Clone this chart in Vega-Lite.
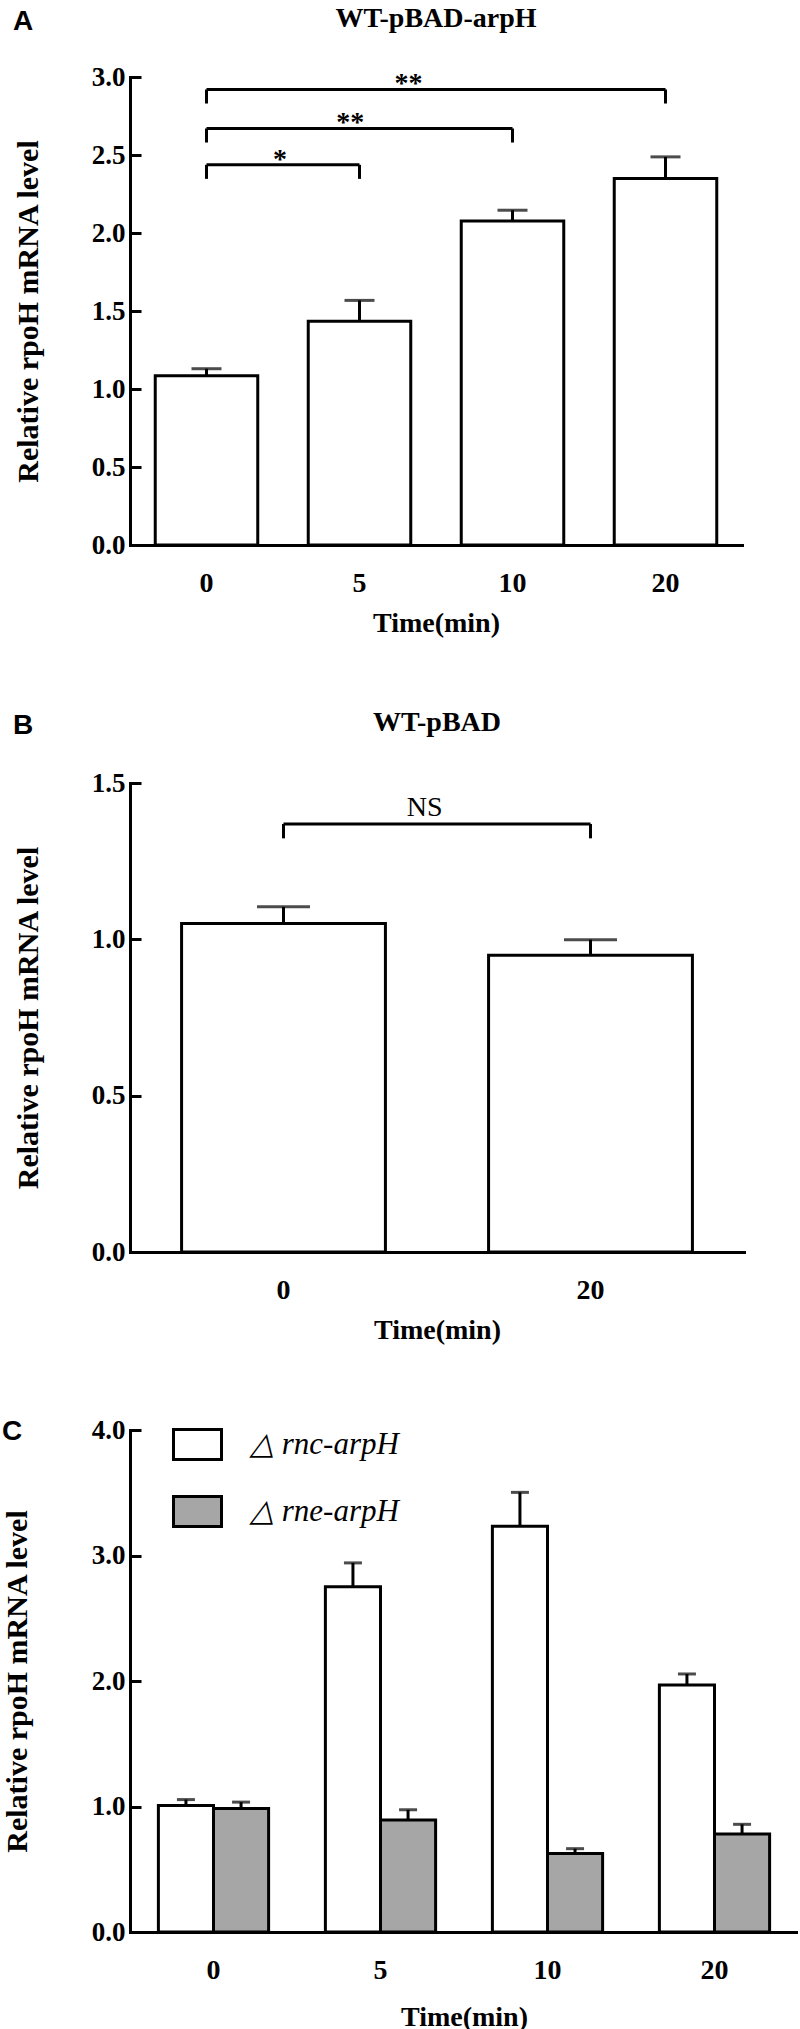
{
  "$schema": "https://vega.github.io/schema/vega-lite/v6.json",
  "padding": {"left": 2, "top": 5, "right": 0, "bottom": 0},
  "background": "white",
  "datasets": {
    "a_bars": [
      {"time": "0", "value": 1.085, "upper": 1.13},
      {"time": "5", "value": 1.434, "upper": 1.568},
      {"time": "10", "value": 2.077, "upper": 2.146},
      {"time": "20", "value": 2.35, "upper": 2.488}
    ],
    "a_sig": [
      {"from": "0", "to": "5", "mid": 0.48, "y": 2.437, "ylow": 2.347, "label": "*"},
      {"from": "0", "to": "10", "mid": 0.94, "y": 2.67, "ylow": 2.58, "label": "**"},
      {"from": "0", "to": "20", "mid": 1.32, "y": 2.92, "ylow": 2.83, "label": "**"}
    ],
    "b_bars": [
      {"time": "0", "value": 1.051, "upper": 1.104},
      {"time": "20", "value": 0.949, "upper": 0.999}
    ],
    "b_sig": [
      {"from": "0", "to": "20", "mid": 0.46, "y": 1.369, "ylow": 1.323, "label": "NS"}
    ],
    "c_bars": [
      {"time": "0", "strain": "△ rnc-arpH", "value": 1.008, "upper": 1.055},
      {"time": "0", "strain": "△ rne-arpH", "value": 0.984, "upper": 1.035},
      {"time": "5", "strain": "△ rnc-arpH", "value": 2.751, "upper": 2.941},
      {"time": "5", "strain": "△ rne-arpH", "value": 0.892, "upper": 0.974},
      {"time": "10", "strain": "△ rnc-arpH", "value": 3.234, "upper": 3.503},
      {"time": "10", "strain": "△ rne-arpH", "value": 0.626, "upper": 0.664},
      {"time": "20", "strain": "△ rnc-arpH", "value": 1.968, "upper": 2.056},
      {"time": "20", "strain": "△ rne-arpH", "value": 0.78, "upper": 0.858}
    ]
  },
  "vconcat": [
    {
      "title": {"text": "A", "anchor": "start", "frame": "bounds", "font": "Liberation Sans", "fontSize": 28, "fontWeight": "bold", "offset": -30.5},
      "vconcat": [
        {
          "width": 612,
          "height": 468,
          "title": {"text": "WT-pBAD-arpH", "offset": 30},
          "layer": [
            {
              "layer": [
                {
                  "data": {"name": "a_bars"},
                  "mark": {"type": "bar", "fill": "white", "stroke": "black", "strokeWidth": 3},
                  "encoding": {
                    "x": {"field": "time", "type": "nominal", "scale": {"type": "band", "domain": ["0", "5", "10", "20"], "paddingInner": 0.33, "paddingOuter": 0.165}, "axis": {"title": "Time(min)", "titlePadding": 12}},
                    "y": {"field": "value", "type": "quantitative", "scale": {"domain": [0, 3], "nice": false}, "axis": {"values": [0, 0.5, 1, 1.5, 2, 2.5, 3], "format": ".1f", "title": "Relative rpoH mRNA level"}}
                  }
                },
                {
                  "data": {"name": "a_bars"},
                  "mark": {"type": "rule", "color": "black", "strokeWidth": 3},
                  "encoding": {
                    "x": {"field": "time", "type": "nominal"},
                    "y": {"field": "value", "type": "quantitative"},
                    "y2": {"field": "upper"}
                  }
                },
                {
                  "data": {"name": "a_bars"},
                  "mark": {"type": "tick", "color": "black", "size": 30, "thickness": 3},
                  "encoding": {
                    "x": {"field": "time", "type": "nominal"},
                    "y": {"field": "upper", "type": "quantitative"}
                  }
                },
                {
                  "data": {"name": "a_sig"},
                  "mark": {"type": "rule", "color": "black", "strokeWidth": 3},
                  "encoding": {
                    "x": {"field": "from", "type": "nominal"},
                    "x2": {"field": "to"},
                    "y": {"field": "y", "type": "quantitative"}
                  }
                },
                {
                  "data": {"name": "a_sig"},
                  "mark": {"type": "rule", "color": "black", "strokeWidth": 3},
                  "encoding": {
                    "x": {"field": "from", "type": "nominal"},
                    "y": {"field": "ylow", "type": "quantitative"},
                    "y2": {"field": "y"}
                  }
                },
                {
                  "data": {"name": "a_sig"},
                  "mark": {"type": "rule", "color": "black", "strokeWidth": 3},
                  "encoding": {
                    "x": {"field": "to", "type": "nominal"},
                    "y": {"field": "ylow", "type": "quantitative"},
                    "y2": {"field": "y"}
                  }
                }
              ]
            },
            {
              "data": {"name": "a_sig"},
              "mark": {"type": "text", "font": "Liberation Serif", "fontSize": 28, "fontWeight": "bold", "baseline": "alphabetic", "dy": 3, "color": "black"},
              "encoding": {
                "x": {"field": "mid", "type": "quantitative", "scale": {"domain": [-0.5, 3.5], "nice": false, "zero": false}, "axis": null},
                "y": {"field": "y", "type": "quantitative"},
                "text": {"field": "label"}
              }
            }
          ],
          "resolve": {"scale": {"x": "independent"}}
        }
      ]
    },
    {
      "title": {"text": "B", "anchor": "start", "frame": "bounds", "font": "Liberation Sans", "fontSize": 28, "fontWeight": "bold", "offset": -30.5},
      "vconcat": [
        {
          "width": 614,
          "height": 469,
          "title": {"text": "WT-pBAD", "offset": 32},
          "layer": [
            {
              "layer": [
                {
                  "data": {"name": "b_bars"},
                  "mark": {"type": "bar", "fill": "white", "stroke": "black", "strokeWidth": 3},
                  "encoding": {
                    "x": {"field": "time", "type": "nominal", "scale": {"type": "band", "domain": ["0", "20"], "paddingInner": 0.336, "paddingOuter": 0.168}, "axis": {"title": "Time(min)", "titlePadding": 12}},
                    "y": {"field": "value", "type": "quantitative", "scale": {"domain": [0, 1.5], "nice": false}, "axis": {"values": [0, 0.5, 1, 1.5], "format": ".1f", "title": "Relative rpoH mRNA level"}}
                  }
                },
                {
                  "data": {"name": "b_bars"},
                  "mark": {"type": "rule", "color": "black", "strokeWidth": 3},
                  "encoding": {
                    "x": {"field": "time", "type": "nominal"},
                    "y": {"field": "value", "type": "quantitative"},
                    "y2": {"field": "upper"}
                  }
                },
                {
                  "data": {"name": "b_bars"},
                  "mark": {"type": "tick", "color": "black", "size": 53, "thickness": 3},
                  "encoding": {
                    "x": {"field": "time", "type": "nominal"},
                    "y": {"field": "upper", "type": "quantitative"}
                  }
                },
                {
                  "data": {"name": "b_sig"},
                  "mark": {"type": "rule", "color": "black", "strokeWidth": 3},
                  "encoding": {
                    "x": {"field": "from", "type": "nominal"},
                    "x2": {"field": "to"},
                    "y": {"field": "y", "type": "quantitative"}
                  }
                },
                {
                  "data": {"name": "b_sig"},
                  "mark": {"type": "rule", "color": "black", "strokeWidth": 3},
                  "encoding": {
                    "x": {"field": "from", "type": "nominal"},
                    "y": {"field": "ylow", "type": "quantitative"},
                    "y2": {"field": "y"}
                  }
                },
                {
                  "data": {"name": "b_sig"},
                  "mark": {"type": "rule", "color": "black", "strokeWidth": 3},
                  "encoding": {
                    "x": {"field": "to", "type": "nominal"},
                    "y": {"field": "ylow", "type": "quantitative"},
                    "y2": {"field": "y"}
                  }
                }
              ]
            },
            {
              "data": {"name": "b_sig"},
              "mark": {"type": "text", "font": "Liberation Serif", "fontSize": 28, "baseline": "alphabetic", "dy": -8, "color": "black"},
              "encoding": {
                "x": {"field": "mid", "type": "quantitative", "scale": {"domain": [-0.5, 1.5], "nice": false, "zero": false}, "axis": null},
                "y": {"field": "y", "type": "quantitative"},
                "text": {"field": "label"}
              }
            }
          ],
          "resolve": {"scale": {"x": "independent"}}
        }
      ]
    },
    {
      "title": {"text": "C", "anchor": "start", "frame": "bounds", "font": "Liberation Sans", "fontSize": 28, "fontWeight": "bold", "offset": -30},
      "vconcat": [
        {
          "width": 668,
          "height": 502,
          "data": {"name": "c_bars"},
          "layer": [
            {
              "mark": {"type": "bar", "stroke": "black", "strokeWidth": 3, "opacity": 1},
              "encoding": {
                "x": {"field": "time", "type": "nominal", "scale": {"type": "band", "domain": ["0", "5", "10", "20"], "paddingInner": 0.34, "paddingOuter": 0.17}, "axis": {"title": "Time(min)", "titlePadding": 19}},
                "xOffset": {"field": "strain", "type": "nominal", "scale": {"paddingInner": 0, "paddingOuter": 0}},
                "y": {"field": "value", "type": "quantitative", "scale": {"domain": [0, 4], "nice": false}, "axis": {"values": [0, 1, 2, 3, 4], "format": ".1f", "title": "Relative rpoH mRNA level", "titlePadding": 59.25}},
                "fill": {
                  "field": "strain",
                  "type": "nominal",
                  "scale": {"domain": ["△ rnc-arpH", "△ rne-arpH"], "range": ["white", "#a6a6a6"]},
                  "legend": {
                    "title": null,
                    "orient": "none",
                    "legendX": 51,
                    "legendY": -2,
                    "symbolType": "M-1.6,-1H1.6V1H-1.6Z",
                    "symbolSize": 900,
                    "symbolStrokeColor": "black",
                    "symbolStrokeWidth": 3,
                    "symbolOpacity": 1,
                    "labelFont": "Liberation Serif",
                    "labelFontSize": 31,
                    "labelFontStyle": "italic",
                    "labelColor": "black",
                    "labelOffset": 36,
                    "labelLimit": 300,
                    "rowPadding": 24
                  }
                }
              }
            },
            {
              "mark": {"type": "rule", "color": "black", "strokeWidth": 3},
              "encoding": {
                "x": {"field": "time", "type": "nominal"},
                "xOffset": {"field": "strain", "type": "nominal"},
                "y": {"field": "value", "type": "quantitative"},
                "y2": {"field": "upper"}
              }
            },
            {
              "mark": {"type": "tick", "color": "black", "size": 18, "thickness": 3},
              "encoding": {
                "x": {"field": "time", "type": "nominal"},
                "xOffset": {"field": "strain", "type": "nominal"},
                "y": {"field": "upper", "type": "quantitative"}
              }
            }
          ]
        }
      ],
      "resolve": {"legend": {"fill": "independent"}}
    }
  ],
  "spacing": 72,
  "resolve": {"legend": {"fill": "independent"}},
  "config": {
    "font": "Liberation Serif",
    "view": {"stroke": null},
    "title": {"font": "Liberation Serif", "fontSize": 28, "fontWeight": "bold", "color": "black"},
    "axis": {
      "grid": false,
      "domainColor": "black",
      "domainWidth": 3,
      "domainCap": "square",
      "tickColor": "black",
      "tickWidth": 3,
      "labelFont": "Liberation Serif",
      "labelFontWeight": "bold",
      "labelColor": "black",
      "titleFont": "Liberation Serif",
      "titleFontWeight": "bold",
      "titleColor": "black"
    },
    "axisX": {"ticks": false, "labelPadding": 24, "labelAngle": 0, "labelFontSize": 28, "titleFontSize": 28},
    "axisY": {"tickSize": -11, "labelPadding": 16, "labelFontSize": 27, "titleFontSize": 30, "titlePadding": 48.25}
  }
}
